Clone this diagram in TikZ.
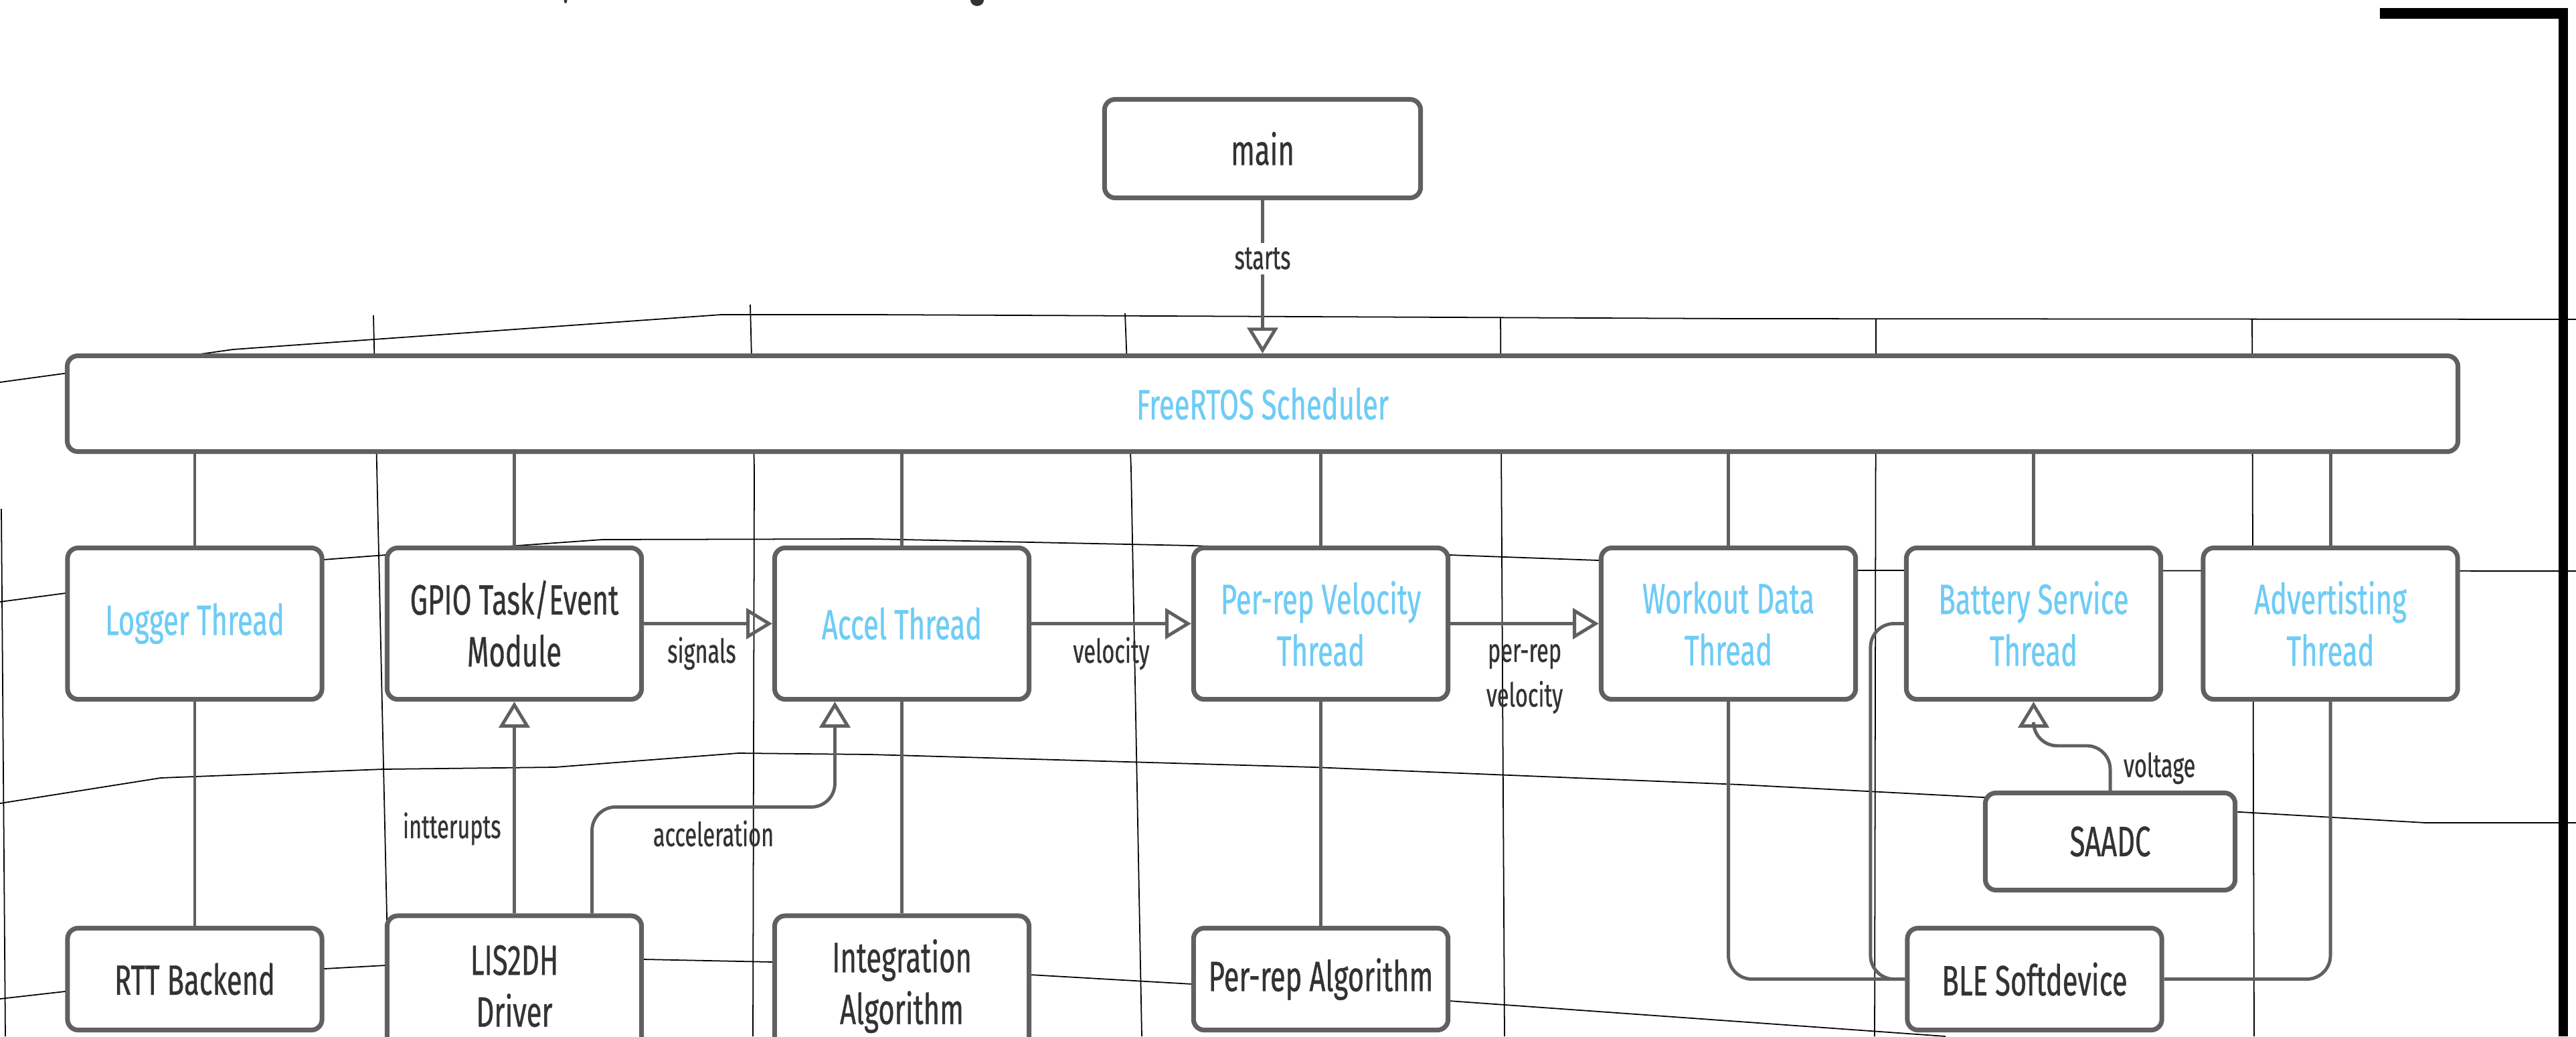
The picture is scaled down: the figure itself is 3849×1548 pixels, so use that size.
\documentclass[tikz,border=0pt]{standalone}
\usepackage{fontspec}
\setmainfont[FakeStretch=0.66, FakeBold=0.6]{Fira Sans}
\usepackage{xcolor}
\usetikzlibrary{arrows.meta, positioning, calc}

\definecolor{boxgray}{RGB}{96,96,96}
\definecolor{threadblue}{RGB}{110,204,245}
\definecolor{textdark}{RGB}{51,51,51}

\begin{document}
\begin{tikzpicture}[
    x=0.01cm, y=-0.01cm,
    box/.style={draw=boxgray, line width=2pt, rounded corners=4.5pt, fill=white,
      minimum width=3.8cm, minimum height=2.26cm, align=center,
      text=textdark, font=\fontsize{18}{22}\selectfont},
    thread/.style={box, text=threadblue},
    link/.style={boxgray, line width=1.4pt},
    arrow/.style={link, -{Triangle[open, length=11pt, width=13pt]}},
    lbl/.style={text=textdark, align=center, inner sep=2pt,
      font=\fontsize{14}{19}\selectfont},
    warp/.style={black, line width=0.5pt}
]
\useasboundingbox (0,0) rectangle (3849,1548);
\clip (0,0) rectangle (3849,1548);

% warped grid behind the diagram
\draw[warp] (0,571) -- (95,558) -- (348,522) -- (1078,470) -- (1300,470) -- (2600,476) -- (3849,477);
\draw[warp] (0,899) -- (98,886) -- (483,836) -- (576,829) -- (900,806) -- (1300,805)
  -- (1781,815) -- (2166,829) -- (2388,837) -- (2775,852) -- (3849,853);
\draw[warp] (0,1200) -- (240,1162) -- (572,1149) -- (829,1146) -- (1103,1125) -- (1300,1127)
  -- (1963,1146) -- (2600,1172) -- (2963,1191) -- (3348,1213) -- (3624,1229) -- (3849,1229);
\draw[warp] (0,1492) -- (97,1481) -- (485,1447) -- (576,1442) -- (961,1433) -- (1155,1437)
  -- (1539,1456) -- (1782,1470) -- (2165,1495) -- (2907,1548);
\draw[warp] (2,760) -- (8,1548);
\draw[warp] (558,471) -- (582,1548);
\draw[warp] (1121,455) -- (1127,700) -- (1125,1548);
\draw[warp] (1681,468) -- (1690,700) -- (1706,1548);
\draw[warp] (2242,474) -- (2248,1548);
\draw[warp] (2803,476) -- (2801,1548);
\draw[warp] (3365,476) -- (3368,1548);

% cut-off title and frame
\fill[textdark] (845,0) ellipse [x radius=0.025cm, y radius=0.05cm];
\fill[textdark] (1460,0) ellipse [x radius=0.1cm, y radius=0.09cm];
\fill[black] (3556,12) rectangle (3837,28);
\fill[black] (3823,12) rectangle (3837,1548);

% top
\node[box, minimum width=4.72cm, minimum height=1.47cm] (main) at (1886.5,222) {main};
\node[thread, minimum width=35.7cm, minimum height=1.43cm] (sched) at (1886.5,603) {FreeRTOS Scheduler};

% threads
\node[thread] (logger) at (291,931.5) {Logger Thread};
\node[box] (gpio) at (768.5,931.5) {GPIO Task/Event\\Module};
\node[thread] (accel) at (1347.5,931.5) {Accel Thread};
\node[thread] (perrep) at (1973.5,931.5) {Per-rep Velocity\\Thread};
\node[thread] (workout) at (2582.5,931.5) {Workout Data\\Thread};
\node[thread] (battery) at (3038.5,931.5) {Battery Service\\Thread};
\node[thread] (advert) at (3482,931.5) {Advertisting\\Thread};

% drivers and algorithms
\node[box, minimum width=3.73cm, minimum height=1.45cm] (saadc) at (3153,1257) {SAADC};
\node[box, minimum height=1.52cm] (rtt) at (291,1462.5) {RTT Backend};
\node[box, minimum height=2.1cm] (lis) at (768.5,1473) {LIS2DH\\Driver};
\node[box, minimum height=2.1cm] (integ) at (1347.5,1473) {Integration\\Algorithm};
\node[box, minimum height=1.52cm] (peralgo) at (1973.5,1462.5) {Per-rep Algorithm};
\node[box, minimum height=1.52cm] (ble) at (3040,1462.5) {BLE Softdevice};

\coordinate (accin) at ([xshift=-1cm]accel.south);

\draw[arrow] (main) -- node[lbl, fill=white, pos=0.38] {starts} (sched);
\foreach \nm in {logger, gpio, accel, perrep, workout, battery, advert}
  \draw[link] (sched.south -| \nm.north) -- (\nm.north);

\draw[arrow] (gpio) -- node[lbl, below=3pt, pos=0.45] {signals} (accel);
\draw[arrow] (accel) -- node[lbl, below=3pt] {velocity} (perrep);
\draw[arrow] (perrep) -- node[lbl, below=6pt] {per-rep\\velocity} (workout);

\draw[link] (logger) -- (rtt);
\draw[link] (accel) -- (integ);
\draw[link] (perrep) -- (peralgo);
\draw[arrow] (lis) -- node[lbl, left=3pt, pos=0.4] {intterupts} (gpio);
\draw[arrow, rounded corners=10pt] ([xshift=1.16cm]lis.north) -- ++(0,-159)
  -| node[lbl, below=3pt, pos=0.25] {acceleration} (accin);
\draw[arrow, rounded corners=10pt] (saadc.north) -- node[lbl, right=3pt] {voltage} ++(0,-67) -| (battery.south);

\draw[link, rounded corners=10pt] (workout.south) |- (ble.west);
\draw[link, rounded corners=10pt] (battery.west) -- ++(-50,0) |- (ble.west);
\draw[link, rounded corners=10pt] (advert.south) |- (ble.east);
\end{tikzpicture}
\end{document}
